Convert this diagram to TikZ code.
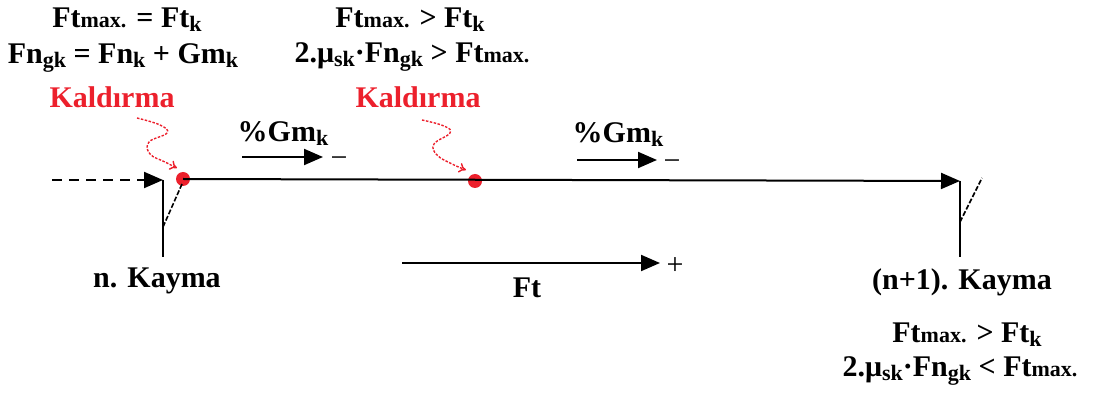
\documentclass[tikz,border=0pt]{standalone}
\usepackage{fontspec}
\setmainfont{Liberation Serif}
\usetikzlibrary{arrows.meta}
\definecolor{kred}{RGB}{236,32,44}
\newcommand{\sk}[1]{\raisebox{-3.5pt}{\fontsize{22}{22}\selectfont #1}}
\newcommand{\sm}[1]{{\fontsize{22}{22}\selectfont #1}}
\begin{document}
\begin{tikzpicture}[x=1pt,y=-1pt,
  every node/.style={inner sep=0pt},
  txt/.style={font=\fontsize{30}{34}\selectfont\bfseries, anchor=base},
  rtxt/.style={txt, text=kred},
  sign/.style={font=\fontsize{30}{34}\selectfont, anchor=center},
  tip/.style={-{Triangle[length=19pt,width=16pt]}},
  ln/.style={line width=2pt},
  dsh/.style={line width=2pt, dash pattern=on 10pt off 7pt},
  sq/.style={kred, line width=1.4pt, dash pattern=on 2.5pt off 1.5pt, -{To[length=7pt,width=10pt]}},
  dot/.style={circle, fill=kred, minimum size=14pt}]
\useasboundingbox (0,0) rectangle (1098,403);

% texts top-left
\node[txt] (a1) at (127,28) {Ft\sm{max.} = Ft\sk{k}};
\node[txt] (a2) at (123,64) {Fn\sk{gk} = Fn\sk{k} + Gm\sk{k}};
\node[rtxt] (k1) at (112,108) {Kaldırma};
% texts top-middle
\node[txt] (b1) at (410,28) {Ft\sm{max.} > Ft\sk{k}};
\node[txt] (b2) at (412,63) {2.μ\sk{sk}·Fn\sk{gk} > Ft\sm{max.}};
\node[rtxt] (k2) at (418,108) {Kaldırma};
% right texts
\node[txt] (nk1) at (962,290) {(n+1). Kayma};
\node[txt] (c1) at (967,343) {Ft\sm{max.} > Ft\sk{k}};
\node[txt] (c2) at (960,377) {2.μ\sk{sk}·Fn\sk{gk} < Ft\sm{max.}};
\node[txt] (nk) at (157,288) {n. Kayma};

% main line
\coordinate (d0) at (52,180);
\coordinate (m1) at (163,180);
\node[dot] (r1) at (183,179) {};
\node[dot] (r2) at (475,181) {};
\coordinate (m2) at (960,181);
\draw[dsh, tip] (d0) -- (m1);
\draw[ln, tip] (r1.center) -- (m2);

% slip markers
\coordinate (v1b) at (163,257);
\coordinate (v1m) at (163,227);
\coordinate (v1t) at (182,184);
\draw[line width=1.8pt] (m1) -- (v1b);
\draw[line width=1.6pt, dash pattern=on 5pt off 2pt] (v1m) -- (v1t);
\coordinate (v2b) at (960,257);
\coordinate (v2m) at (960,222);
\coordinate (v2t) at (982,178);
\draw[line width=1.8pt] (m2) -- (v2b);
\draw[line width=1.6pt, dash pattern=on 5pt off 2pt] (v2m) -- (v2t);

% squiggly arrows
\draw[sq] plot[smooth, tension=0.7] coordinates {(137,118) (160,125) (167,133) (149,142) (150,154) (165,162) (177,168)};
\draw[sq] plot[smooth, tension=0.7] coordinates {(422,120) (444,126) (450,133) (434,144) (437,155) (452,164) (466,170)};

% %Gm arrows
\coordinate (g1s) at (242,157);
\coordinate (g1e) at (323,157);
\draw[ln, tip] (g1s) -- (g1e);
\node[sign] (g1m) at (339,162) {−};
\node[txt] (g1l) at (283,142) {\%Gm\sk{k}};
\coordinate (g2s) at (577,160);
\coordinate (g2e) at (657,160);
\draw[ln, tip] (g2s) -- (g2e);
\node[sign] (g2m) at (672,165) {−};
\node[txt] (g2l) at (618,143) {\%Gm\sk{k}};

% Ft arrow
\coordinate (fs) at (402,263);
\coordinate (fe) at (660,263);
\draw[ln, tip] (fs) -- (fe);
\node[sign] (fp) at (675,266) {+};
\node[txt] (fl) at (527,298) {Ft};
\end{tikzpicture}
\end{document}
